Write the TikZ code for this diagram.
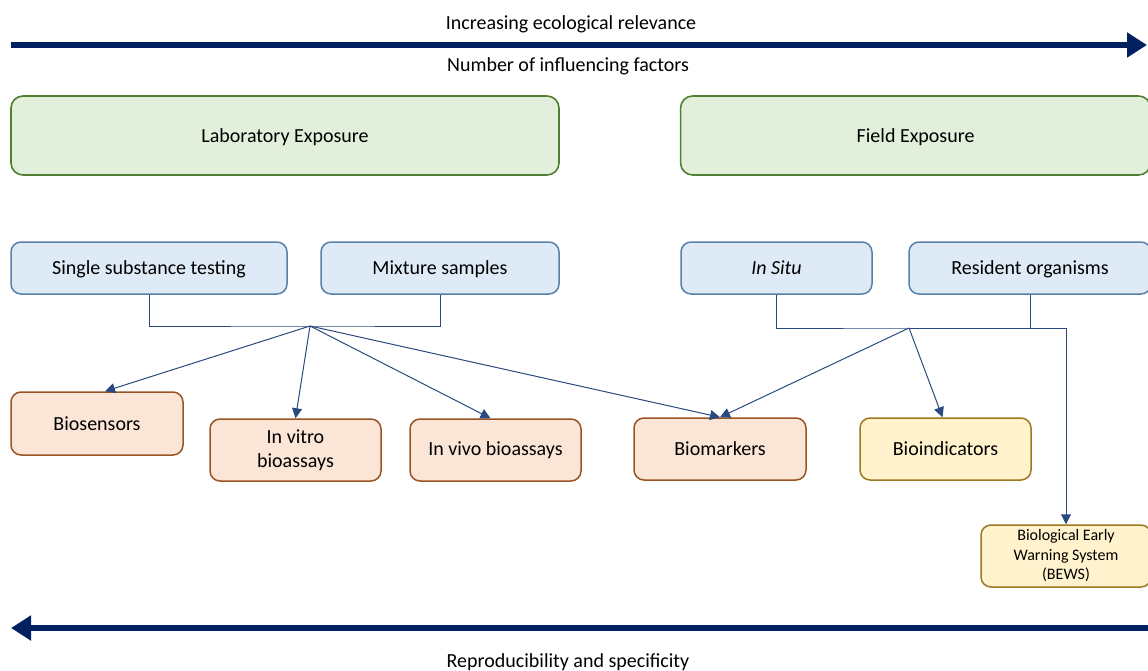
\documentclass[tikz,border=0pt]{standalone}
\usepackage{fontspec}
\setmainfont{Carlito}
\usetikzlibrary{arrows.meta, calc, positioning}
\definecolor{navy}{HTML}{002060}
\definecolor{linkblue}{HTML}{2A4A7F}
\definecolor{greenfill}{HTML}{E2EFDA}
\definecolor{greenline}{HTML}{507E32}
\definecolor{bluefill}{HTML}{DEEBF7}
\definecolor{blueline}{HTML}{5A7FA8}
\definecolor{orangefill}{HTML}{FBE5D6}
\definecolor{orangeline}{HTML}{9A5424}
\definecolor{yellowfill}{HTML}{FFF2CC}
\definecolor{yellowline}{HTML}{9C7A22}
\tikzstyle{exposure} = [rectangle, rounded corners=12pt, line width=1.6pt, minimum height=79pt, text centered, text depth=0pt, draw=greenline, fill=greenfill, font=\fontsize{20}{24}\selectfont]
\tikzstyle{sample} = [rectangle, rounded corners=10pt, line width=1.5pt, minimum height=52pt, text centered, text depth=0pt, draw=blueline, fill=bluefill, font=\fontsize{20}{24}\selectfont]
\tikzstyle{tool} = [rectangle, rounded corners=10pt, line width=1.5pt, minimum width=171pt, minimum height=62pt, align=center, draw=orangeline, fill=orangefill, font=\fontsize{20}{24.5}\selectfont]
\tikzstyle{field} = [tool, draw=yellowline, fill=yellowfill]
\tikzstyle{axis} = [line width=6pt, navy, -{Triangle[length=20pt, width=24pt]}]
\tikzstyle{link} = [line width=1pt, linkblue]
\tikzstyle{arrow} = [link, -{Triangle[length=10pt, width=10pt]}]
\tikzstyle{caption} = [text depth=0pt, font=\fontsize{20}{24}\selectfont]

\begin{document}
\begin{tikzpicture}[x=1pt, y=-1pt, auto]
		\useasboundingbox (0,0) rectangle (1148,671);
		
		\node (Relevance) [caption] at (571,23) {Increasing ecological relevance};
		\node (Factors) [caption] at (568,65) {Number of influencing factors};
		\node (Reproducibility) [caption] at (568,661) {Reproducibility and specificity};
		\coordinate (TopLeft) at (11,45);
		\coordinate (TopRight) at (1147,45);
		\coordinate (BottomRight) at (1148,628);
		\coordinate (BottomLeft) at (11,628);
		\draw [axis] (TopLeft) -- (TopRight);
		\draw [axis] (BottomRight) -- (BottomLeft);
		
		\node (Lab) [exposure, minimum width=548pt] at (285,135.5) {Laboratory Exposure};
		\node (Field) [exposure, minimum width=470pt, right = 120pt of Lab] {Field Exposure};
		
		\node (Single) [sample, minimum width=276pt] at (149,268) {Single substance testing};
		\node (Mixture) [sample, minimum width=238pt, right = 32.5pt of Single] {Mixture samples};
		\node (InSitu) [sample, minimum width=191pt] at (776.5,268) {\textit{In Situ}};
		\node (Resident) [sample, minimum width=242pt, right = 35.5pt of InSitu] {Resident organisms};
		
		\node (Biosensors) [tool, minimum width=172pt, minimum height=63pt] at (97,423.5) {Biosensors};
		\node (InVitro) [tool] at (295.5,450) {In vitro\\bioassays};
		\node (InVivo) [tool, right = 27.5pt of InVitro] {In vivo bioassays};
		\node (Biomarkers) [tool, minimum width=172pt] at (720,449) {Biomarkers};
		\node (Bioindicators) [field, right = 52.5pt of Biomarkers] {Bioindicators};
		\node (BEWS) [field, minimum width=170pt, font=\fontsize{16}{19.5}\selectfont] at (1066,556) {Biological Early\\Warning System\\(BEWS)};
		
		\coordinate (LabJoin) at (310,326);
		\coordinate (FieldJoin) at (909,328);
		
		\draw [link] (Single.south) |- (LabJoin) -| (Mixture.south);
		\draw [link] (InSitu.south) |- (FieldJoin) -| (Resident.south);
		\draw [arrow] (FieldJoin) -| (BEWS.north);
		
		\draw [arrow] (LabJoin) -- ($(Biosensors.north)+(8,0)$);
		\draw [arrow] (LabJoin) -- (InVitro.north);
		\draw [arrow] (LabJoin) -- ($(InVivo.north)+(-5,0)$);
		\draw [arrow] (LabJoin) -- (Biomarkers.north);
		\draw [arrow] (FieldJoin) -- (Biomarkers.north);
		\draw [arrow] (FieldJoin) -- ($(Bioindicators.north)+(-3,0)$);
		\end{tikzpicture}
\end{document}
